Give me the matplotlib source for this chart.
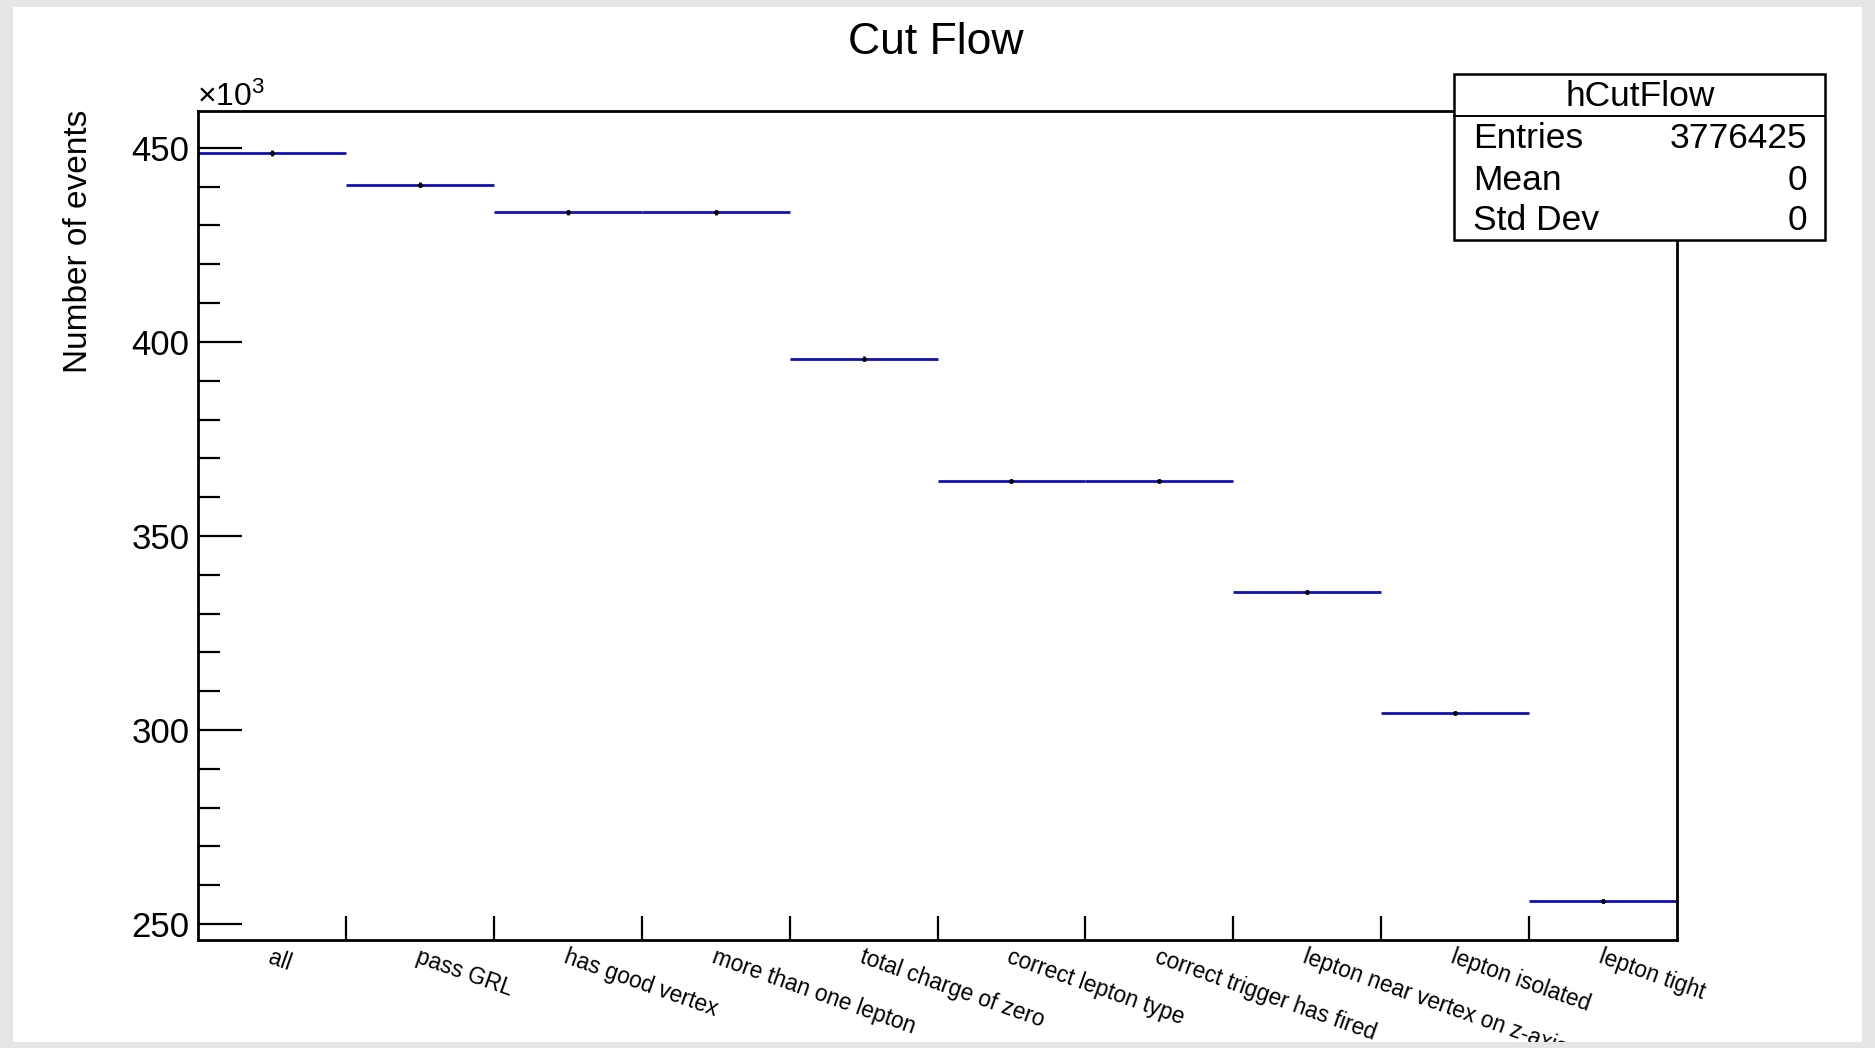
import numpy as np
import matplotlib.pyplot as plt
from matplotlib.patches import Rectangle
from matplotlib.lines import Line2D
from matplotlib.ticker import MultipleLocator
from matplotlib.transforms import Bbox, TransformedBbox

plt.rcParams['font.family'] = ['Liberation Sans', 'DejaVu Sans']
plt.rcParams['mathtext.default'] = 'regular'

# cut flow
cuts = ["all", "pass GRL", "has good vertex", "more than one lepton",
        "total charge of zero", "correct lepton type", "correct trigger has fired",
        "lepton near vertex on z-axis", "lepton isolated", "lepton tight"]
events = [448700, 440500, 433400, 433400, 395700, 364200, 364200, 335600, 304400, 256000]

# stats box
hist_name = "hCutFlow"
entries = 3776425
mean = 0
std_dev = 0

W, H = 1875, 1048
blue = '#1212b0'


def fx(px):
    return px / W


def fy(py):
    return 1 - py / H


fig = plt.figure(figsize=(W / 100, H / 100), dpi=100)
fig.patch.set_facecolor('#e6e6e6')
canvas = Rectangle((fx(13), fy(1042)), fx(1862) - fx(13), fy(7) - fy(1042),
                   transform=fig.transFigure, facecolor='white', edgecolor='none', zorder=-5)
fig.add_artist(canvas)

ax = fig.add_axes([fx(198), fy(940), fx(1677) - fx(198), fy(111) - fy(940)])
ax.set_facecolor('none')

x = np.arange(len(cuts)) + 0.5
y = np.array(events) / 1000
yerr = np.sqrt(events) / 1000
ax.errorbar(x, y, xerr=0.5, yerr=yerr, fmt='o', ms=2.5, mfc='black', mec='black',
            ecolor=blue, elinewidth=2, capsize=0)

ax.set_xlim(0, len(cuts))
ax.set_ylim(245.9, 459.5)
ax.set_xticks(np.arange(1, len(cuts)))
ax.set_yticks([250, 300, 350, 400, 450])
ax.yaxis.set_minor_locator(MultipleLocator(10))
ax.tick_params(axis='x', direction='in', length=17, width=1.6, labelbottom=False)
ax.tick_params(axis='y', which='major', direction='in', length=31.5, width=1.6,
               labelsize=25, pad=6)
ax.tick_params(axis='y', which='minor', direction='in', length=15.8, width=1.6)
for s in ax.spines.values():
    s.set_linewidth(2)

# labels run off the bottom of the canvas, like in the screenshot
clip = TransformedBbox(Bbox([[fx(13), fy(1042)], [fx(1862), fy(7)]]), fig.transFigure)
for xi, c in zip(x, cuts):
    t = ax.annotate(c, xy=(xi, 0), xycoords=('data', 'axes fraction'),
                    xytext=(0.5, -4), textcoords='offset points',
                    rotation=-19.5, rotation_mode='anchor', ha='left', va='top',
                    fontsize=16.3)
    t.set_clip_box(clip)
    t.set_clip_on(True)

fig.text(fx(79), fy(110), "Number of events", rotation=90, ha='center', va='top', fontsize=24)
fig.text(fx(197), fy(106), "×10$^{3}$", ha='left', va='baseline', fontsize=23)
fig.text(fx(936), fy(42), "Cut Flow", ha='center', va='center', fontsize=32)

# stats box on top of the frame
box = Rectangle((fx(1454), fy(240)), fx(1825) - fx(1454), fy(74) - fy(240),
                transform=fig.transFigure, facecolor='white', edgecolor='black',
                linewidth=1.8, zorder=5)
fig.add_artist(box)
fig.add_artist(Line2D([fx(1454), fx(1825)], [fy(116), fy(116)], transform=fig.transFigure,
                      color='black', linewidth=1.4, zorder=6))
fig.text(fx(1640), fy(96), hist_name, ha='center', va='center', fontsize=25.5, zorder=7)
rows = [("Entries", str(entries)), ("Mean", str(mean)), ("Std Dev", str(std_dev))]
for (name, val), ry in zip(rows, [138, 180, 221]):
    fig.text(fx(1473), fy(ry), name, ha='left', va='center', fontsize=25.5, zorder=7)
    fig.text(fx(1807), fy(ry), val, ha='right', va='center', fontsize=25.5, zorder=7)

fig.savefig("out.png", dpi=100, facecolor=fig.get_facecolor())
